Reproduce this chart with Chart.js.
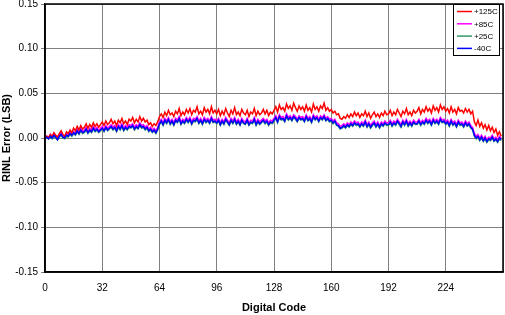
<!DOCTYPE html>
<html>
<head>
<meta charset="utf-8">
<script src="https://cdn.jsdelivr.net/npm/chart.js@4"></script>
<style>
  html, body { margin: 0; padding: 0; background: #fff; }
  #wrap { width: 505px; height: 315px; }
</style>
</head>
<body>
<div id="wrap"><canvas id="rinl-chart"></canvas></div>
<script>
// RINL error per digital code, in 1/1000 LSB
const seriesLabels = ['+125C', '+85C', '+25C', '-40C']
const xTicks = [0, 32, 64, 96, 128, 160, 192, 224]
const yTicks = [-0.15, -0.10, -0.05, 0, 0.05, 0.10, 0.15]

const rinl125 = [
    0,2,1,4,2,6,3,1,5,8,4,2,7,5,9,6,
    11,8,13,9,14,10,12,16,11,15,12,17,13,16,12,15,
    18,14,19,15,17,21,16,19,14,20,17,22,16,19,15,21,
    19,23,17,21,18,24,19,22,18,20,15,17,13,16,14,18,
    24,27,23,29,25,31,26,28,24,30,27,33,25,29,26,32,
    28,33,26,31,29,35,27,30,26,34,29,32,27,35,28,31,
    27,32,25,30,26,33,28,24,31,27,34,26,29,25,32,28,
    26,31,24,29,27,33,25,30,26,28,32,27,31,25,29,27,
    31,35,29,37,32,34,30,38,33,36,31,39,34,30,36,32,
    35,30,37,31,34,29,38,32,35,30,36,33,39,31,34,30,
    32,28,30,26,27,22,21,24,22,26,23,27,24,29,25,28,
    23,27,25,30,24,28,22,26,29,24,27,23,28,25,30,26,
    27,31,25,29,26,32,28,24,30,27,33,26,29,25,31,28,
    30,34,27,32,29,35,30,33,28,36,31,34,29,37,32,35,
    30,33,28,35,29,32,27,34,30,31,28,33,29,32,27,30,
    18,14,20,13,17,11,15,9,14,8,12,6,10,3,7,2
]
const rinl85 = [
    0,2,0,4,1,5,2,-1,3,6,2,1,5,3,7,4,
    7,5,10,6,11,7,9,12,7,11,9,13,10,12,8,11,
    13,9,14,11,13,15,12,14,10,15,12,16,11,14,12,15,
    14,16,12,15,13,17,14,15,12,14,10,12,9,11,8,12,
    18,21,17,22,19,23,18,21,17,22,20,24,18,21,19,23,
    20,23,18,22,21,24,19,22,18,23,20,22,19,24,20,21,
    19,22,17,21,18,23,20,17,22,19,23,18,21,17,22,19,
    18,22,17,20,19,23,17,21,18,20,22,19,21,17,20,19,
    22,25,20,26,23,24,21,27,23,25,22,26,24,21,25,23,
    24,21,26,22,24,20,26,23,25,21,25,23,26,22,24,21,
    22,19,21,17,16,13,14,16,14,17,15,18,16,19,17,18,
    15,18,16,20,15,18,14,17,19,15,18,14,18,16,19,17,
    17,20,16,19,17,21,18,15,20,17,21,16,19,16,20,18,
    18,21,17,20,18,22,19,21,17,22,19,21,18,23,20,21,
    18,20,16,21,17,19,15,20,17,18,15,19,16,18,14,12,
    5,2,4,0,3,-1,2,-2,1,0,3,-1,1,-2,2,0
]
const rinl25 = [
    0,0,-1,1,-1,2,0,-2,1,3,0,-1,2,1,4,2,
    5,3,7,4,8,5,6,9,5,8,6,10,7,9,6,8,
    10,7,11,8,10,12,9,11,7,12,9,13,8,11,9,12,
    11,13,9,12,10,14,11,12,9,11,7,9,6,8,5,9,
    15,18,14,19,16,20,15,18,14,19,17,21,15,18,16,20,
    17,20,15,19,18,21,16,19,15,20,17,19,16,21,17,18,
    16,19,14,18,15,20,17,14,19,16,20,15,18,14,19,16,
    15,19,14,17,16,20,14,18,15,17,19,16,18,14,17,16,
    19,22,17,23,20,21,18,24,20,22,19,23,21,18,22,20,
    21,18,23,19,21,17,23,20,22,18,22,20,23,19,21,18,
    19,16,18,14,13,10,11,13,11,14,12,15,13,16,14,15,
    12,15,13,17,12,15,11,14,16,12,15,11,15,13,16,14,
    14,17,13,16,14,18,15,12,17,14,18,13,16,13,17,15,
    15,18,14,17,15,19,16,18,14,19,16,18,15,20,17,18,
    15,17,13,18,14,16,12,17,14,15,12,16,13,15,11,9,
    2,-1,1,-3,0,-4,-1,-5,-2,-3,0,-4,-2,-5,-1,-3
]
const rinlM40 = [
    0,1,-1,2,0,3,1,-2,2,4,1,0,3,2,5,3,
    6,4,8,5,9,6,7,10,6,9,7,11,8,10,7,9,
    11,8,12,9,11,13,10,12,8,13,10,14,9,12,10,13,
    12,14,10,13,11,15,12,13,10,12,8,10,7,9,6,10,
    16,19,15,20,17,21,16,19,15,20,18,22,16,19,17,21,
    18,21,16,20,19,22,17,20,16,21,18,20,17,22,18,19,
    17,20,15,19,16,21,18,15,20,17,21,16,19,15,20,17,
    16,20,15,18,17,21,15,19,16,18,20,17,19,15,18,17,
    20,23,18,24,21,22,19,25,21,23,20,24,22,19,23,21,
    22,19,24,20,22,18,24,21,23,19,23,21,24,20,22,19,
    20,17,19,15,14,11,12,14,12,15,13,16,14,17,15,16,
    13,16,14,18,13,16,12,15,17,13,16,12,16,14,17,15,
    15,18,14,17,15,19,16,13,18,15,19,14,17,14,18,16,
    16,19,15,18,16,20,17,19,15,20,17,19,16,21,18,19,
    16,18,14,19,15,17,13,18,15,16,13,17,14,16,12,10,
    3,0,2,-2,1,-3,0,-4,-1,-2,1,-3,-1,-4,0,-2
]

const colors = ['#ff0000', '#ff00ff', '#339966', '#0000ff']
const font = 'Liberation Sans, Arial, sans-serif'

const toPoints = arr => arr.map((v, code) => ({ x: code, y: v / 1000 }))

// legend box inside the plot, top right, plus the black frame
const frameLegend = {
    id: 'frameLegend',
    afterDraw(chart) {
        const { ctx, chartArea: a } = chart
        ctx.save()
        ctx.strokeStyle = '#000'
        ctx.lineWidth = 1.5
        ctx.strokeRect(a.left, a.top, a.right - a.left, a.bottom - a.top)
        const bx = a.right - 50, by = a.top, bw = 46, bh = 51
        ctx.fillStyle = '#fff'
        ctx.fillRect(bx, by, bw, bh)
        ctx.lineWidth = 1
        ctx.strokeRect(bx + 0.5, by + 0.5, bw, bh)
        ctx.font = `8px ${font}`
        ctx.textBaseline = 'middle'
        chart.data.datasets.forEach((ds, i) => {
            const y = by + 7.5 + i * 12.3
            ctx.strokeStyle = ds.borderColor
            ctx.lineWidth = 1.5
            ctx.beginPath()
            ctx.moveTo(bx + 4, y)
            ctx.lineTo(bx + 19, y)
            ctx.stroke()
            ctx.fillStyle = '#000'
            ctx.fillText(ds.label, bx + 21, y + 0.5)
        })
        ctx.restore()
    }
}

const datasets = [rinl125, rinl85, rinl25, rinlM40].map((arr, i) => ({
    label: seriesLabels[i],
    data: toPoints(arr),
    borderColor: colors[i],
    borderWidth: 1.5,
    pointRadius: 0,
    tension: 0,
    order: [1, 2, 3, 0][i]
}))

new Chart(document.getElementById('rinl-chart'), {
    type: 'line',
    data: { datasets },
    plugins: [frameLegend],
    options: {
        responsive: true,
        maintainAspectRatio: false,
        animation: false,
        layout: { padding: { top: 4, right: 2, left: 0, bottom: 0 } },
        plugins: { legend: { display: false }, tooltip: { enabled: false } },
        scales: {
            x: {
                type: 'linear',
                min: 0,
                max: 256,
                afterBuildTicks: s => { s.ticks = xTicks.concat([256]).map(v => ({ value: v })) },
                afterFit: s => {
                    s.height = 43
                    s.paddingLeft = 0
                    s.paddingRight = 0
                },
                grid: { color: '#808080', lineWidth: 1, drawTicks: false },
                border: { color: '#000', width: 1.5 },
                ticks: {
                    color: '#000',
                    font: { family: font, size: 10 },
                    padding: 10,
                    maxRotation: 0,
                    callback: v => (v === 256 ? '' : String(v))
                },
                title: {
                    display: true,
                    text: 'Digital Code',
                    color: '#000',
                    font: { family: font, size: 11, weight: 'bold' },
                    padding: { top: 0, bottom: 0 }
                }
            },
            y: {
                min: -0.15,
                max: 0.15,
                afterBuildTicks: s => { s.ticks = yTicks.map(v => ({ value: v })) },
                afterFit: s => {
                    s.width = 45
                    s.paddingTop = 0
                    s.paddingBottom = 0
                },
                grid: { color: '#808080', lineWidth: 1, tickLength: 4 },
                border: { color: '#000', width: 1.5 },
                ticks: {
                    color: '#000',
                    font: { family: font, size: 10 },
                    padding: 3,
                    callback: v => v.toFixed(2)
                },
                title: {
                    display: true,
                    text: 'RINL Error (LSB)',
                    color: '#000',
                    font: { family: font, size: 11, weight: 'bold' },
                    padding: { top: 0, bottom: 0 }
                }
            }
        }
    }
})
</script>
</body>
</html>
